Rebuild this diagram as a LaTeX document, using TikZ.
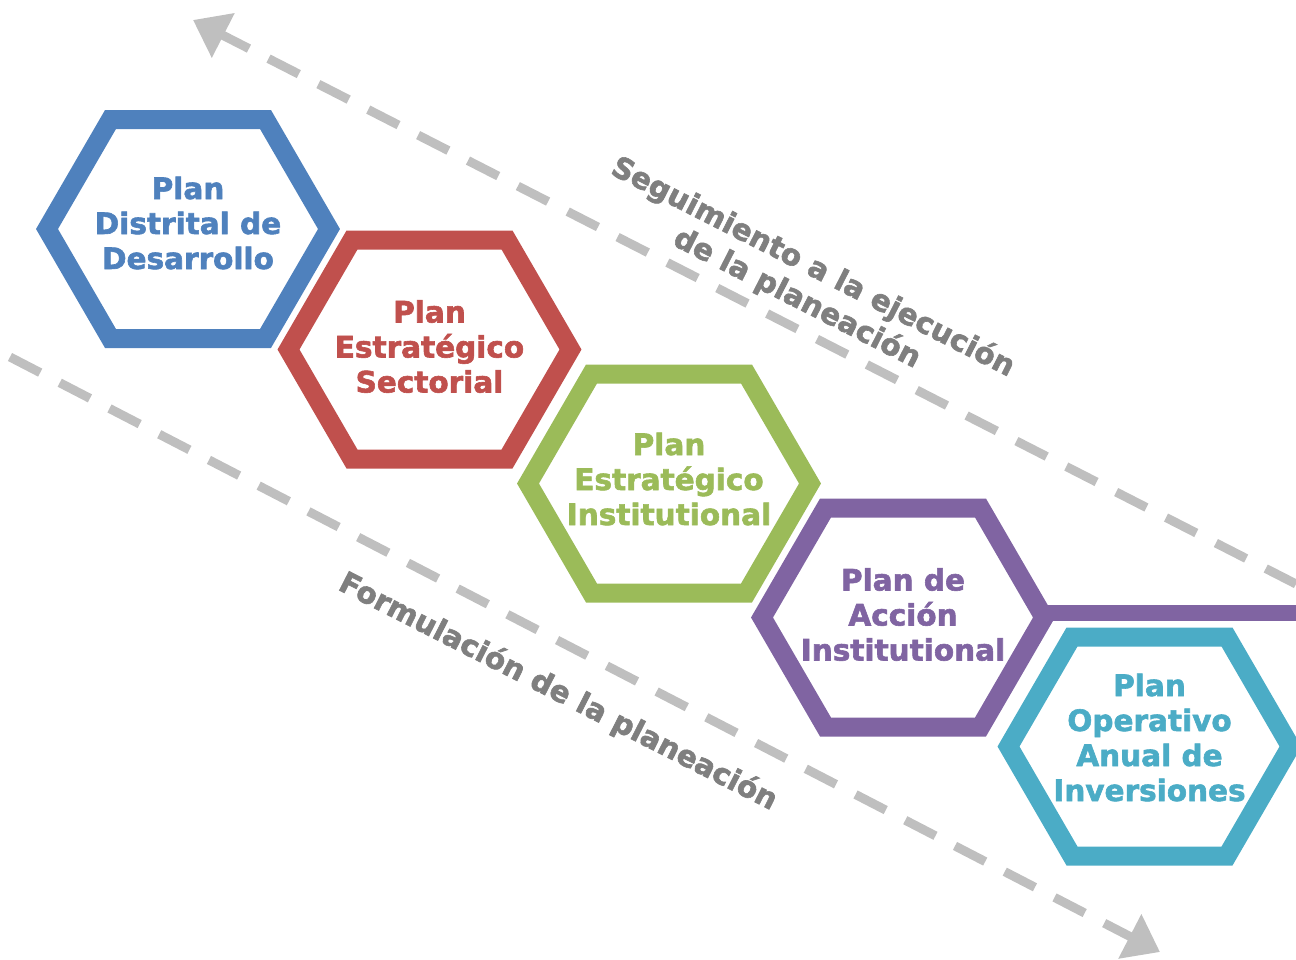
\documentclass[tikz,border=0pt]{standalone}
\usepackage{fontspec}
\setmainfont{DejaVu Sans}[BoldFeatures={FakeBold=2}]
\usepackage{tikz}
\usetikzlibrary{arrows.meta}

\definecolor{planblue}{HTML}{4F81BD}
\definecolor{planred}{HTML}{C0504D}
\definecolor{plangreen}{HTML}{9BBB59}
\definecolor{planpurple}{HTML}{8064A2}
\definecolor{planteal}{HTML}{4BACC6}
\definecolor{flowgray}{HTML}{BFBFBF}
\definecolor{labelgray}{HTML}{7F7F7F}

\begin{document}
\begin{tikzpicture}[x=0.5pt, y=-0.5pt,
        hexline/.style={line width=9.5pt, line join=miter},
        plantext/.style={text=#1, font=\fontsize{14.75}{17.5}\selectfont\bfseries, align=center, inner sep=0pt},
        flow/.style={draw=flowgray, line width=4.5pt, dash pattern=on 17pt off 11pt, -{Triangle[length=17pt, width=24pt]}},
        flowlabel/.style={text=labelgray, font=\fontsize{14.75}{17.5}\selectfont\bfseries, align=center, inner sep=0pt, rotate=-27}]
        \useasboundingbox (0,0) rectangle (1296,959);

        % dashed arrows
        \coordinate (segStart) at (1296,584);
        \coordinate (segEnd) at (193,20);
        \coordinate (forStart) at (10,357);
        \coordinate (forEnd) at (1160,952);
        \draw[flow] (segStart) -- (segEnd);
        \draw[flow] (forStart) -- (forEnd);

        % hexagons
        \foreach \cx/\cy/\col in {188/229/planblue, 429.5/349.5/planred, 669/483.5/plangreen, 903/617.5/planpurple, 1149.5/746.5/planteal}
            \draw[hexline, draw=\col, shift={(\cx,\cy)}] (-141,0) -- (-77.5,-109.5) -- (77.5,-109.5) -- (141,0) -- (77.5,109.5) -- (-77.5,109.5) -- cycle;

        \coordinate (accEast) at (1044,613);
        \coordinate (accEdge) at (1296,613);
        \draw[planpurple, line width=8pt] (accEast) -- (accEdge);

        \node[plantext=planblue] (pdd) at (188,223) {Plan\\Distrital de\\Desarrollo};
        \node[plantext=planred] (pes) at (429.5,346.5) {Plan\\Estratégico\\Sectorial};
        \node[plantext=plangreen] (pei) at (669,479) {Plan\\Estratégico\\Institutional};
        \node[plantext=planpurple] (pai) at (903,614.5) {Plan de\\Acción\\Institutional};
        \node[plantext=planteal] (poai) at (1149.5,737.5) {Plan\\Operativo\\Anual de\\Inversiones};

        \node[flowlabel] (seg) at (805,283) {Seguimiento a la ejecución\\de la planeación};
        \node[flowlabel] (form) at (558,692) {Formulación de la planeación};
    \end{tikzpicture}
\end{document}
